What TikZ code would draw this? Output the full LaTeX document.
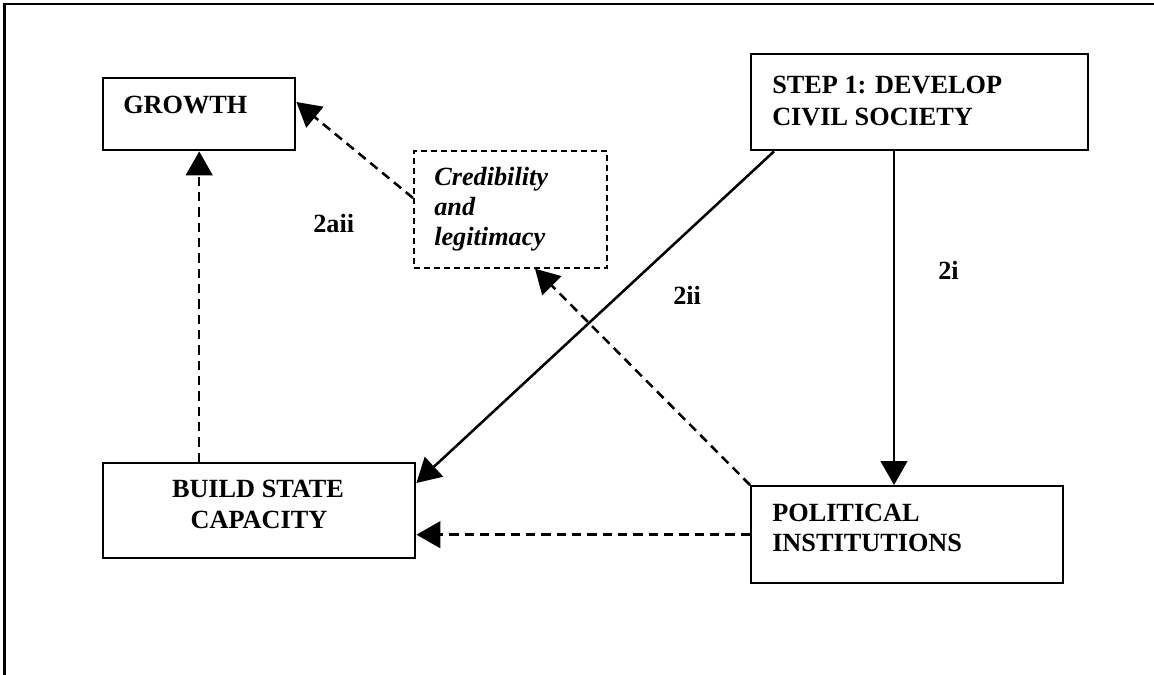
\documentclass[tikz,border=0pt]{standalone}
\usepackage{fontspec}
\setmainfont{Liberation Serif}
\usetikzlibrary{arrows.meta}
\begin{document}
\begin{tikzpicture}[x=0.75pt,y=-0.75pt,
  box/.style={draw,line width=1.8pt,rectangle,inner sep=0pt,anchor=north west},
  dbox/.style={draw,line width=1.3pt,rectangle,inner sep=0pt,anchor=north west,dash pattern=on 4.5pt off 3pt},
  lbl/.style={font=\fontsize{19.7}{24}\selectfont\bfseries,inner sep=0pt,anchor=base west},
  ilbl/.style={font=\fontsize{19.7}{24}\selectfont\bfseries\itshape,inner sep=0pt,anchor=base west},
  conn/.style={line width=1.9pt,-{Triangle[length=18pt,width=20pt]}},
  dconn/.style={conn,dash pattern=on 7pt off 4.5pt}]
\useasboundingbox (0,0) rectangle (1154,675);
\clip (0,0) rectangle (1154,675);
% outer frame
\coordinate (fa) at (4.5,690);
\coordinate (fb) at (4.5,4);
\coordinate (fc) at (1170,4);
\draw[line width=1.8pt] (fa) -- (fb) -- (fc);
% boxes
\node[box,minimum width=192*0.75pt,minimum height=72*0.75pt] (grow) at (102,77) {};
\node[dbox,minimum width=193*0.75pt,minimum height=117*0.75pt] (cred) at (413,150) {};
\node[box,minimum width=337*0.75pt,minimum height=96*0.75pt] (step) at (750,53) {};
\node[box,minimum width=312*0.75pt,minimum height=97*0.75pt] (pol) at (750,485) {};
\node[box,minimum width=312*0.75pt,minimum height=95*0.75pt] (build) at (102,462) {};
% texts
\node[lbl] (tgrow) at (123,113) {GROWTH};
\node[lbl] (tstep1) at (772,93) {STEP 1: DEVELOP};
\node[lbl] (tstep2) at (772,125) {CIVIL SOCIETY};
\node[lbl] (tpol1) at (772,521) {POLITICAL};
\node[lbl] (tpol2) at (772,551) {INSTITUTIONS};
\node[lbl,anchor=base] (tbuild1) at (258,497) {BUILD STATE};
\node[lbl,anchor=base] (tbuild2) at (259,528) {CAPACITY};
\node[ilbl] (tcred1) at (434,185) {Credibility};
\node[ilbl] (tcred2) at (434,215) {and};
\node[ilbl] (tcred3) at (434,245) {legitimacy};
\node[lbl] (l2aii) at (313,232) {2aii};
\node[lbl] (l2ii) at (673,304) {2ii};
\node[lbl] (l2i) at (938,279) {2i};
% connectors
\draw[conn] ([xshift=108pt]step.south west) -- ([xshift=108pt]pol.north west);
\draw[conn] ([xshift=18pt]step.south west) -- ([yshift=-15.75pt]build.north east);
\draw[dconn] (pol.west) -- (pol.west -| build.east);
\draw[dconn] (grow.south |- build.north) -- (grow.south);
\draw[dconn] (pol.north west) -- ([xshift=91.5pt]cred.south west);
\draw[dconn] ([yshift=-36pt]cred.north west) -- ([yshift=-18.75pt]grow.north east);
\end{tikzpicture}
\end{document}
